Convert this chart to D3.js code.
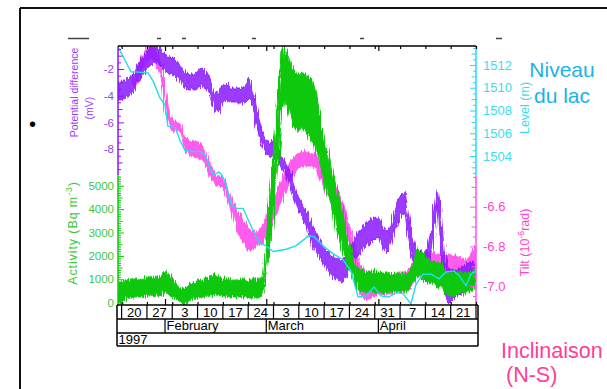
<!DOCTYPE html>
<html><head><meta charset="utf-8">
<script src="https://cdn.jsdelivr.net/npm/d3@7"></script>
<style>body{margin:0;background:#fff}svg{display:block}text{font-family:"Liberation Sans",Arial,sans-serif}</style>
</head><body><svg id="c" width="607" height="389"></svg>
<script>
// ---------- DATA (day-of-year 1997) ----------
const potDoy = [19.0,20.1,21.2,22.3,23.4,24.5,25.6,26.7,27.8,29.0,30.1,31.2,32.3,33.4,34.5,35.6,36.7,37.8,38.9,40.0,41.1,42.2,43.3,44.4,45.5,46.7,47.8,48.9,50.0,51.1,52.2,53.3,54.4,55.5,56.6,57.7,58.8,59.9,61.0,62.1,63.2,64.4,65.5,66.6,67.7,68.8,69.9,71.0,72.1,73.2,74.3,75.4,76.5,77.6,78.7,79.8,80.9,82.1,83.2,84.3,85.4,86.5,87.6,88.7,89.8,90.9,92.0,93.1,94.2,95.3,96.4,97.5,98.4,99.2,100.3,101.4,102.5,103.6,104.7,105.8,106.7,107.5,108.3,109.2,110.3,111.4,112.5,113.6,114.7,115.8,116.9,118.0];
const potHi = [-2.97,-2.82,-2.82,-2.60,-2.37,-1.62,-1.18,-0.73,-0.43,-0.28,-0.28,-0.58,-1.03,-1.18,-1.18,-1.48,-2.07,-2.22,-2.37,-2.37,-2.07,-1.92,-2.22,-2.82,-3.72,-3.87,-3.27,-3.12,-3.42,-3.42,-3.42,-3.42,-3.27,-2.67,-3.87,-5.45,-6.57,-7.32,-7.47,-7.32,-7.92,-8.52,-8.97,-9.72,-10.61,-11.51,-12.11,-12.56,-13.31,-13.91,-14.66,-15.11,-15.56,-15.86,-16.01,-16.16,-16.31,-16.01,-15.26,-14.81,-14.21,-13.91,-13.46,-13.31,-13.16,-13.09,-13.76,-14.21,-13.76,-12.71,-11.81,-11.36,-11.21,-12.71,-14.51,-15.41,-15.71,-16.01,-15.26,-13.76,-11.81,-10.91,-12.56,-15.56,-16.91,-17.06,-17.06,-16.91,-16.76,-16.46,-16.46,-16.46];
const potLo = [-4.32,-4.32,-4.17,-3.95,-3.72,-2.97,-2.52,-2.07,-1.78,-1.48,-1.62,-1.92,-2.22,-2.37,-2.52,-2.82,-3.27,-3.42,-3.57,-3.57,-3.42,-3.27,-3.42,-4.02,-5.07,-5.22,-4.62,-4.32,-4.47,-4.47,-4.55,-4.55,-4.47,-4.17,-5.45,-6.72,-7.77,-8.37,-8.52,-8.59,-8.82,-9.57,-10.01,-10.91,-11.81,-12.71,-13.16,-13.61,-14.81,-15.41,-16.01,-16.46,-16.91,-17.36,-17.66,-17.81,-17.96,-17.66,-16.76,-16.46,-16.01,-15.56,-15.26,-15.11,-14.81,-14.51,-15.26,-15.71,-15.41,-14.36,-13.46,-12.86,-12.71,-14.81,-16.16,-16.91,-17.51,-17.81,-17.21,-15.71,-13.69,-12.19,-15.56,-18.55,-19.60,-19.30,-19.00,-18.85,-18.70,-18.40,-18.25,-18.10];

const actDoy = [19.0,20.1,21.2,22.3,23.4,24.5,25.6,26.7,27.8,29.0,30.1,31.2,32.3,33.4,34.5,35.6,36.7,37.8,38.9,40.0,41.1,42.2,43.3,44.4,45.5,46.7,47.8,48.9,50.0,51.1,52.2,53.3,54.4,55.5,56.6,57.7,58.8,59.4,59.9,60.5,61.0,61.6,62.1,62.7,63.2,63.8,64.4,64.9,65.5,66.0,66.6,67.1,67.9,68.8,69.6,70.4,71.3,72.1,72.9,73.8,74.6,75.4,76.2,77.1,77.9,78.7,79.6,80.4,81.2,82.1,83.2,84.3,85.4,86.5,87.6,88.7,89.8,90.9,92.0,93.1,94.2,95.3,96.4,97.5,98.6,99.8,100.9,102.0,103.1,104.2,105.3,106.4,107.5,108.6,109.7,110.8,111.9,113.0,114.1,115.2,116.3,117.4,118.0];
const actHi = [880,960,880,960,1010,1010,960,1050,1090,1140,1050,1220,1390,1140,880,790,620,620,790,880,960,1010,1010,1140,1220,1140,1050,1050,1010,960,1010,960,1010,960,1010,960,1050,1820,2460,3750,4820,5680,6750,7820,8890,9970,10910,10990,10820,10610,10310,10050,9880,9790,9880,9790,9710,9620,9450,9020,8250,7390,6880,6320,5760,5250,4820,4390,3750,3190,2460,1740,1480,1390,1310,1310,1390,1310,1310,1310,1220,1220,1220,1220,1220,1310,1990,2340,2250,1990,1820,1740,1740,1650,1390,1310,1310,1310,1310,1310,1310,1390,1390];
const actLo = [-60,20,190,190,240,240,240,280,280,320,280,360,450,280,190,110,-60,-60,110,190,190,240,240,280,360,320,280,280,240,240,240,240,240,190,240,190,280,790,1180,2040,2460,3320,4180,5040,5890,7180,8250,8680,8470,8160,7910,7610,7480,7310,7480,7390,7220,7050,6880,6620,6110,5590,5160,4740,4180,3750,3020,2590,2160,1740,1310,880,540,450,450,450,450,450,360,450,450,450,450,450,450,540,880,1140,1050,880,790,790,710,620,360,280,280,360,360,450,450,540,540];

const levDoy = [19.0,22.6,23.7,27.3,28.7,30.6,32.0,32.8,34.8,36.1,37.5,39.7,41.7,43.1,44.4,45.5,46.9,47.8,48.9,49.7,50.5,51.9,53.6,54.7,56.3,58.0,59.9,61.9,65.5,68.2,71.8,73.2,75.7,78.5,81.2,83.4,85.4,87.6,89.8,91.7,93.9,95.9,97.8,100.0,101.4,103.3,105.6,107.8,109.7,111.9,113.3,115.2,116.6,118.0];
const levVal = [1513.6,1511.4,1511.4,1511.3,1510.6,1509.1,1508.5,1506.6,1506.5,1505.4,1504.5,1504.4,1504.4,1504.1,1503.0,1502.3,1502.6,1502.3,1501.5,1500.4,1499.6,1499.4,1499.4,1498.6,1497.5,1496.4,1496.1,1495.6,1495.8,1496.1,1497.0,1496.9,1496.1,1495.4,1494.9,1493.9,1491.6,1491.7,1492.5,1491.7,1491.6,1492.0,1491.9,1491.0,1492.7,1493.6,1493.6,1493.2,1493.8,1493.9,1493.5,1492.6,1493.6,1493.9];

const tiltDoy = [23.1,24.5,25.9,27.3,28.7,30.1,30.9,31.7,32.6,33.4,34.5,35.6,36.4,37.3,38.9,40.8,42.5,43.6,45.0,46.4,48.0,49.4,50.5,51.9,53.3,55.0,56.3,57.7,59.1,60.5,61.9,63.2,64.6,66.0,67.4,68.8,70.4,72.1,73.8,74.9,76.2,77.6,79.0,80.4,81.8,83.2,84.5,85.9,87.6,89.2,90.9,92.8,94.8,96.4,98.4,99.8,101.1,102.5,104.2,105.8,107.5,109.2,110.8,112.5,114.1,115.8,117.2,118.0];
const tiltHi = [-5.952,-5.901,-5.821,-5.785,-5.780,-5.836,-5.881,-5.972,-6.062,-6.138,-6.173,-6.173,-6.183,-6.239,-6.269,-6.274,-6.289,-6.345,-6.405,-6.445,-6.455,-6.506,-6.566,-6.617,-6.657,-6.707,-6.727,-6.727,-6.692,-6.617,-6.566,-6.506,-6.445,-6.390,-6.355,-6.329,-6.319,-6.324,-6.335,-6.365,-6.415,-6.455,-6.496,-6.546,-6.617,-6.707,-6.793,-6.894,-6.929,-6.939,-6.949,-6.949,-6.949,-6.929,-6.929,-6.909,-6.869,-6.828,-6.828,-6.828,-6.843,-6.848,-6.843,-6.848,-6.858,-6.869,-6.818,-6.793];
const tiltLo = [-5.992,-5.982,-5.901,-5.861,-5.851,-5.911,-5.952,-6.062,-6.153,-6.204,-6.224,-6.214,-6.229,-6.304,-6.345,-6.355,-6.365,-6.405,-6.475,-6.496,-6.506,-6.566,-6.637,-6.727,-6.768,-6.818,-6.818,-6.798,-6.778,-6.727,-6.667,-6.627,-6.556,-6.491,-6.445,-6.405,-6.395,-6.395,-6.405,-6.455,-6.516,-6.556,-6.607,-6.657,-6.717,-6.828,-6.944,-7.045,-7.070,-7.060,-7.040,-7.040,-7.040,-7.030,-7.020,-7.010,-6.979,-6.929,-6.899,-6.909,-6.929,-6.939,-6.929,-6.944,-6.949,-6.959,-6.909,-6.879];

// tick labels
const potTicks = [-8,-6,-4,-2];
const actTicks = [0,1000,2000,3000,4000,5000];
const levTicks = [1504,1506,1508,1510,1512];
const tiltTicks = [-7.0,-6.8,-6.6];
const weekStarts = ["1997-01-20","1997-01-27","1997-02-03","1997-02-10","1997-02-17","1997-02-24","1997-03-03","1997-03-10","1997-03-17","1997-03-24","1997-03-31","1997-04-07","1997-04-14","1997-04-21","1997-04-28"];
const weekLabels = ["20","27","3","10","17","24","3","10","17","24","31","7","14","21"];
const monthStarts = ["1997-02-01","1997-03-01","1997-04-01"];
const monthLabels = ["February","March","April"];
const yearLabel = "1997";

// ---------- LAYOUT ----------
const C = {pot:"#8a14ff", act:"#0ac80a", lev:"#22dcef", tilt:"#ff52ec",
           potT:"#9a3cf5", actT:"#3cc83c", levT:"#3cdcf0", tiltT:"#ff44cc"};
const L=118, R=476, T=46, B=305, SPLIT=175.5;
const day0 = Date.UTC(1997,0,1);
const toDate = d => new Date(day0 + (d-1)*864e5);
const parse = d3.utcParse("%Y-%m-%d");
const x = d3.scaleUtc().domain([toDate(19), toDate(118)]).range([L,R]);
const yPot = d3.scaleLinear().domain([-10,-2]).range([175.8,69]);
const yAct = d3.scaleLinear().domain([0,5000]).range([302.6,185.8]);
const yLev = d3.scaleLinear().domain([1504,1512]).range([156,65]);
const yTilt = d3.scaleLinear().domain([-7.0,-6.6]).range([286.1,206.7]);

const svg = d3.select("#c");
// noise texture filter (visual jitter of the dense records)
const defs = svg.append("defs");
function jitter(id, seed, scale){
  const f = defs.append("filter").attr("id",id).attr("x","-5%").attr("y","-20%").attr("width","110%").attr("height","140%");
  f.append("feTurbulence").attr("type","fractalNoise").attr("baseFrequency","0.9 0.03").attr("numOctaves",1).attr("seed",seed).attr("result","n");
  f.append("feDisplacementMap").attr("in","SourceGraphic").attr("in2","n").attr("scale",scale).attr("xChannelSelector","B").attr("yChannelSelector","G");
}
jitter("jp",3,9); jitter("jt",7,8); jitter("ja",11,10);

// slide frame
svg.append("line").attr("x1",20).attr("x2",607).attr("y1",8).attr("y2",8).attr("stroke","#111").attr("stroke-width",2);
svg.append("line").attr("x1",20).attr("x2",20).attr("y1",8).attr("y2",389).attr("stroke","#111").attr("stroke-width",2);
// hidden title fragments
[[68,89],[157,161],[182,186],[252,256],[360,364],[496,502]].forEach(s=>{
  svg.append("line").attr("x1",s[0]).attr("x2",s[1]).attr("y1",38.5).attr("y2",38.5).attr("stroke","#444").attr("stroke-width",1.5);
});
svg.append("text").attr("x",29).attr("y",131).attr("font-size",20).attr("fill","#000").text("•");

// plot background
svg.append("rect").attr("x",L).attr("y",T).attr("width",R-L).attr("height",B-T).attr("fill","#fff");
svg.append("clipPath").attr("id","clip").append("rect").attr("x",L).attr("y",T).attr("width",R-L).attr("height",B-T);
const plot = svg.append("g").attr("clip-path","url(#clip)");

function band(doy, hi, lo, ys, color, filt, op){
  const rows = doy.map((d,i)=>({t:toDate(d), hi:hi[i], lo:lo[i]}));
  plot.append("g").attr("filter",`url(#${filt})`).append("path").datum(rows)
    .attr("d", d3.area().x(r=>x(r.t)).y0(r=>ys(r.lo)).y1(r=>ys(r.hi)))
    .attr("fill",color).attr("fill-opacity",op).attr("stroke",color).attr("stroke-width",0.8).attr("stroke-linejoin","round");
}
band(tiltDoy, tiltHi, tiltLo, yTilt, C.tilt, "jt", 0.95);
band(potDoy, potHi, potLo, yPot, C.pot, "jp", 0.85);
band(actDoy, actHi, actLo, yAct, C.act, "ja", 1);
plot.append("path").datum(levDoy.map((d,i)=>({t:toDate(d), v:levVal[i]})))
  .attr("d", d3.line().x(r=>x(r.t)).y(r=>yLev(r.v)))
  .attr("fill","none").attr("stroke",C.lev).attr("stroke-width",1.4);

// ---------- vertical axes ----------
function vAxis(scale, right, xPos, groups, color, labelColor, fmt, fs, pad, y0, y1){
  const g = svg.append("g").attr("transform",`translate(${xPos},0)`);
  groups.forEach(([vals,len,labels])=>{
    const ax = (right ? d3.axisRight(scale) : d3.axisLeft(scale))
      .tickValues(vals).tickSize(-len).tickPadding(pad)
      .tickFormat(labels ? fmt : "");
    const sub = g.append("g").call(ax);
    sub.select(".domain").remove();
    sub.selectAll(".tick line").attr("stroke",color).attr("stroke-width",1);
    sub.selectAll(".tick text").attr("fill",labelColor).attr("font-size",fs)
      .attr("font-family","'Liberation Sans',Arial,sans-serif");
  });
  g.append("line").attr("x1",0).attr("x2",0).attr("y1",y0).attr("y2",y1).attr("stroke",color).attr("stroke-width",1.5);
}
const potHalf = d3.range(-19,0).map(k=>k/2).filter(v=>!Number.isInteger(v));
const potInt = d3.range(-9,0).filter(v=>!potTicks.includes(v));
vAxis(yPot,false,L,[[potHalf,3,false],[potInt,4.5,false],[potTicks,6,true]],C.pot,C.potT,d=>String(d),11.5,4,T,SPLIT);
const act100 = d3.range(1,55).map(k=>k*100).filter(v=>v%500!==0);
const act500 = [500,1500,2500,3500,4500];
vAxis(yAct,false,L,[[act100,3,false],[act500,4.5,false],[actTicks,6,true]],C.act,C.actT,d=>String(d),11.5,4,SPLIT,B);
const levHalf = d3.range(3005,3028).map(k=>k/2).filter(v=>!Number.isInteger(v));
const levOdd = [1503,1505,1507,1509,1511,1513];
vAxis(yLev,true,R,[[levHalf,3,false],[levOdd,4.5,false],[levTicks,6,true]],C.lev,C.levT,d=>String(d),13,7,T,SPLIT);
const tilt5 = [-7.05,-6.95,-6.85,-6.75,-6.65,-6.55,-6.45];
const tilt10 = [-6.9,-6.7,-6.5];
vAxis(yTilt,true,R,[[tilt5,3,false],[tilt10,4.5,false],[tiltTicks,6,true]],C.tilt,C.tiltT,d=>d.toFixed(1),13,7,SPLIT,B);

// ---------- axis titles ----------
function vTitle(xb, yc, color, fs, parts, ls){
  const t = svg.append("text").attr("transform",`translate(${xb},${yc}) rotate(-90)`)
    .attr("text-anchor","middle").attr("fill",color).attr("font-size",fs);
  if (ls) t.attr("letter-spacing",ls);
  parts.forEach(p=>{
    if (p.sup) t.append("tspan").attr("baseline-shift","super").attr("font-size",fs*0.7).text(p.s);
    else t.append("tspan").attr("baseline-shift","0").text(p.s);
  });
}
vTitle(78, 92.5, C.potT, 10.5, [{s:"Potential difference"}]);
vTitle(93, 108, C.potT, 10.5, [{s:"(mV)"}]);
vTitle(77, 233, C.actT, 12.5, [{s:"Activity (Bq m"},{s:"-3",sup:true},{s:")"}], 0.9);
vTitle(529, 108, C.levT, 12.5, [{s:"Level (m)"}]);
vTitle(529, 242.5, C.tiltT, 12.5, [{s:"Tilt (10"},{s:"-6",sup:true},{s:"rad)"}]);

// ---------- time axis & date rows ----------
const weeks = weekStarts.map(parse), months = monthStarts.map(parse);
const k = "#000";
function hl(y,x1,x2){svg.append("line").attr("x1",x1).attr("x2",x2).attr("y1",y).attr("y2",y).attr("stroke",k).attr("stroke-width",1.5);}
function vl(xx,y1,y2,w){svg.append("line").attr("x1",xx).attr("x2",xx).attr("y1",y1).attr("y2",y2).attr("stroke",k).attr("stroke-width",w||1.2);}
hl(T,L,R); hl(B,117,478); hl(319,117,478); hl(333,117,478); hl(346,117,478);
vl(117,B,346,1.5); vl(478,B,346,1.5);
const topW = svg.append("g").attr("transform",`translate(0,${T})`).call(d3.axisTop(x).tickValues(weeks).tickSize(-3).tickFormat(""));
const topM = svg.append("g").attr("transform",`translate(0,${T})`).call(d3.axisTop(x).tickValues(months).tickSize(-5).tickFormat(""));
const botW = svg.append("g").attr("transform",`translate(0,${B})`).call(d3.axisBottom(x).tickValues(weeks).tickSize(-3).tickFormat(""));
const botM = svg.append("g").attr("transform",`translate(0,${B})`).call(d3.axisBottom(x).tickValues(months).tickSize(-6).tickFormat(""));
[topW,topM,botW,botM].forEach(g=>{g.select(".domain").remove(); g.selectAll(".tick line").attr("stroke",k).attr("stroke-width",1.2);});
weeks.forEach(w=>vl(x(w),B,319));
weekLabels.forEach((lab,i)=>{
  svg.append("text").attr("x",(x(weeks[i])+x(weeks[i+1]))/2).attr("y",316.5)
    .attr("text-anchor","middle").attr("font-size",13).attr("fill",k).text(lab);
});
months.forEach((m,i)=>{
  vl(x(m),319,333);
  svg.append("text").attr("x",x(m)+1.5).attr("y",330).attr("font-size",13).attr("fill",k).text(monthLabels[i]);
});
svg.append("text").attr("x",118.5).attr("y",343.5).attr("font-size",13).attr("fill",k).text(yearLabel);

// ---------- annotations ----------
svg.append("text").attr("x",562).attr("y",77).attr("text-anchor","middle").attr("font-size",21).attr("fill","#1ab2ee").text("Niveau");
svg.append("text").attr("x",562).attr("y",103).attr("text-anchor","middle").attr("font-size",21).attr("fill","#1ab2ee").text("du lac");
svg.append("text").attr("x",501).attr("y",358).attr("font-size",21.5).attr("fill","#ff3d96").text("Inclinaison");
svg.append("text").attr("x",506).attr("y",382).attr("font-size",21.5).attr("fill","#ff3d96").text("(N-S)");
</script>
</body></html>
